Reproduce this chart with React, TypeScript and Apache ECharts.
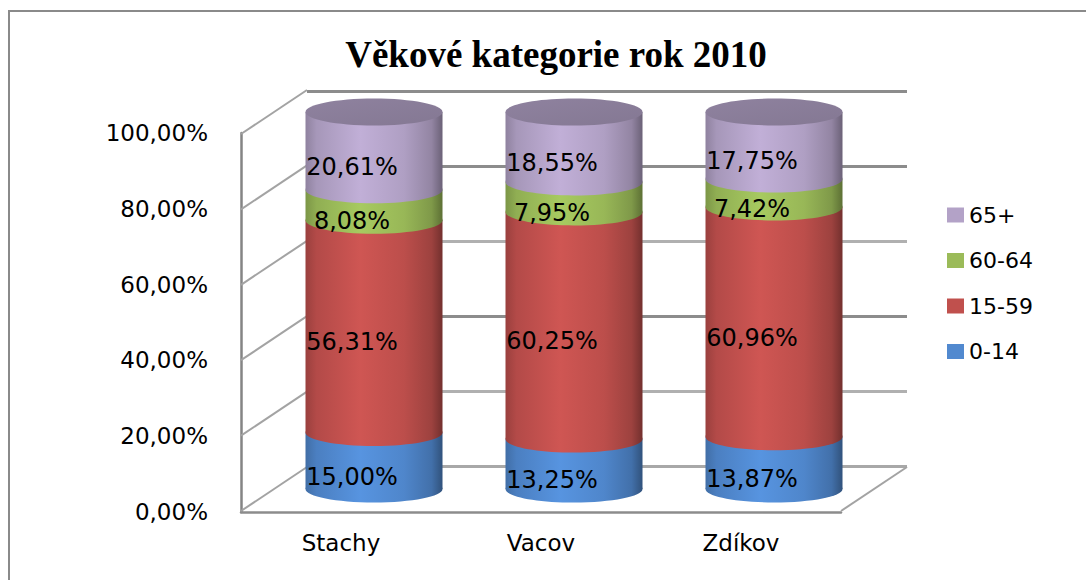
import React, { useEffect, useRef } from "react";
import * as echarts from "echarts";

const categories = ["Stachy", "Vacov", "Zdíkov"];
const seriesNames = ["0-14", "15-59", "60-64", "65+"];
const values0_14 = [15.0, 13.25, 13.87];
const values15_59 = [56.31, 60.25, 60.96];
const values60_64 = [8.08, 7.95, 7.42];
const values65 = [20.61, 18.55, 17.75];
const yTicks = [0, 20, 40, 60, 80, 100];
const legendOrder = ["65+", "60-64", "15-59", "0-14"];

const baseColors = ["#5189cf", "#c0504d", "#9bbb59", "#b3a2c7"];
const FONT = "DejaVu Sans";

const fmt = (v: number) => v.toFixed(2).replace(".", ",") + "%";

function shade(hex: string, f: number) {
  const n = parseInt(hex.slice(1), 16);
  const r = Math.min(255, Math.round(((n >> 16) & 255) * f));
  const g = Math.min(255, Math.round(((n >> 8) & 255) * f));
  const b = Math.min(255, Math.round((n & 255) * f));
  return `rgb(${r},${g},${b})`;
}

function bodyGradient(hex: string) {
  return new echarts.graphic.LinearGradient(0, 0, 1, 0, [
    { offset: 0, color: shade(hex, 0.8) },
    { offset: 0.08, color: shade(hex, 0.93) },
    { offset: 0.4, color: shade(hex, 1.08) },
    { offset: 0.72, color: shade(hex, 0.98) },
    { offset: 0.92, color: shade(hex, 0.82) },
    { offset: 1, color: shade(hex, 0.6) },
  ]);
}

export default function App() {
  const ref = useRef<HTMLDivElement>(null);
  useEffect(() => {
    if (!ref.current) return;
    const chart = echarts.init(ref.current, null, { renderer: "svg" });
    const valueSets = [values0_14, values15_59, values60_64, values65];
    const bases: number[][] = [];
    let acc = categories.map(() => 0);
    valueSets.forEach((vals) => {
      bases.push(acc.slice());
      acc = acc.map((a, i) => a + vals[i]);
    });

    const cylSeries = valueSets.map((vals, k) => ({
      name: seriesNames[k],
      type: "custom",
      xAxisIndex: 2,
      yAxisIndex: 2,
      z: 2,
      itemStyle: { color: baseColors[k] },
      data: categories.map((c, i) => [i, bases[k][i], bases[k][i] + vals[i], vals[i]]),
      renderItem: (params: any, api: any) => {
        const i = api.value(0);
        const s = api.value(1);
        const e = api.value(2);
        const v = api.value(3);
        const pb = api.coord([i, s]);
        const pt = api.coord([i, e]);
        const w = api.size([1, 0])[0] * 0.685;
        const cx = pb[0];
        const ry = 13.5;
        const grad = bodyGradient(baseColors[k]);
        const children: any[] = [
          {
            type: "rect",
            shape: { x: cx - w / 2, y: pt[1], width: w, height: pb[1] - pt[1] },
            style: { fill: grad },
          },
          {
            type: "ellipse",
            shape: { cx, cy: pb[1], rx: w / 2, ry },
            style: { fill: grad },
          },
        ];
        if (k === valueSets.length - 1) {
          children.push({
            type: "ellipse",
            shape: { cx, cy: pt[1], rx: w / 2, ry },
            style: {
              fill: new echarts.graphic.LinearGradient(0, 0, 1, 1, [
                { offset: 0, color: shade(baseColors[k], 0.8) },
                { offset: 1, color: shade(baseColors[k], 0.74) },
              ]),
            },
          });
        }
        children.push({
          type: "text",
          x: cx - 22,
          y: (pt[1] + pb[1]) / 2 + 16,
          z2: 100,
          style: {
            text: fmt(v),
            fill: "#000",
            fontFamily: FONT,
            fontSize: 24,
            align: "center",
            verticalAlign: "middle",
          },
        });
        return { type: "group", children };
      },
    }));

    const wallSeries = {
      name: "walls",
      type: "custom",
      xAxisIndex: 2,
      yAxisIndex: 2,
      z: 1,
      silent: true,
      data: yTicks.map((v) => [0, v]),
      renderItem: (params: any, api: any) => {
        const v = api.value(1);
        const p = api.coord([0, v]);
        const cs = params.coordSys;
        const left = cs.x;
        const right = cs.x + cs.width;
        const y = p[1];
        const st = { stroke: "#a3a3a3", lineWidth: 2 };
        const children: any[] = [
          { type: "line", shape: { x1: left - 33, y1: y + 22, x2: left + 33, y2: y - 22 }, style: st },
        ];
        if (v === 0) {
          children.push({
            type: "line",
            shape: { x1: right - 33, y1: y + 22, x2: right + 33, y2: y - 22 },
            style: st,
          });
        }
        return { type: "group", children };
      },
    };

    const option: any = {
      animation: false,
      backgroundColor: "#fff",
      graphic: [
        {
          type: "rect",
          silent: true,
          z: -10,
          shape: { x: 9, y: 11, width: 1200, height: 700 },
          style: { fill: "none", stroke: "#8a8a8a", lineWidth: 2 },
        },
      ],
      title: {
        text: "Věkové kategorie rok 2010",
        left: 551,
        textAlign: "center",
        top: 31,
        textStyle: {
          fontFamily: "Liberation Serif",
          fontWeight: "bold",
          fontSize: 37,
          color: "#000",
        },
      },
      legend: {
        orient: "vertical",
        left: 942,
        top: 199,
        itemWidth: 17,
        itemHeight: 15,
        itemGap: 23.5,
        icon: "rect",
        data: legendOrder,
        textStyle: { fontFamily: FONT, fontSize: 22, color: "#000", lineHeight: 22 },
      },
      grid: [
        { left: 241, right: 1086 - 841, top: 133, bottom: 580 - 512 },
        { left: 307, right: 1086 - 907, top: 91, bottom: 580 - 466 },
        { left: 274, right: 1086 - 874, top: 112, bottom: 580 - 489 },
      ],
      xAxis: [
        {
          gridIndex: 0,
          type: "category",
          data: categories,
          axisLine: { lineStyle: { color: "#8c8c8c", width: 2.5 } },
          axisTick: { show: false },
          axisLabel: { fontFamily: FONT, fontSize: 23, color: "#000", margin: 19 },
        },
        { gridIndex: 1, type: "category", data: categories, show: false },
        { gridIndex: 2, type: "category", data: categories, show: false },
      ],
      yAxis: [
        {
          gridIndex: 0,
          type: "value",
          min: 0,
          max: 100,
          interval: 20,
          axisLine: { show: true, lineStyle: { color: "#858585", width: 2.5 } },
          axisTick: { show: false },
          splitLine: { show: false },
          axisLabel: {
            formatter: (v: number) => fmt(v),
            fontFamily: FONT,
            fontSize: 23,
            color: "#000",
            margin: 33,
          },
        },
        {
          gridIndex: 1,
          type: "value",
          min: 0,
          max: 100,
          interval: 20,
          axisLine: { show: false },
          axisTick: { show: false },
          axisLabel: { show: false },
          splitLine: {
            show: true,
            lineStyle: {
              color: ["#a8a8a8", "#b0b0b0", "#8c8c8c", "#b0b0b0", "#8c8c8c", "#8c8c8c"],
              width: 3,
            },
          },
        },
        { gridIndex: 2, type: "value", min: 0, max: 100, show: false },
      ],
      series: [wallSeries, ...cylSeries],
    };
    chart.setOption(option);
    return () => chart.dispose();
  }, []);
  return (
    <div
      ref={ref}
      style={{ position: "absolute", left: 0, top: 0, width: 1086, height: 580 }}
    />
  );
}
